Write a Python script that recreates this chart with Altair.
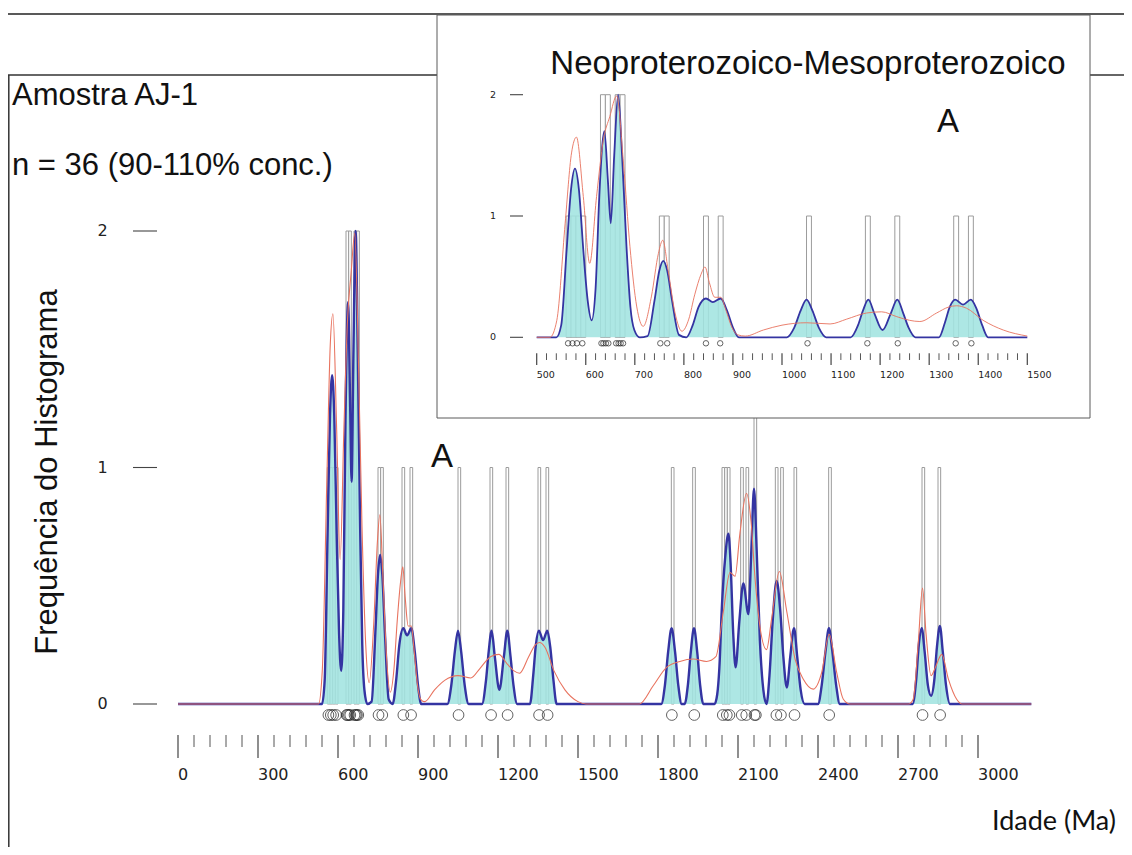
import altair as alt
import pandas as pd

# ---------------- data ----------------
# individual grain ages (Ma), n = 36
ages = [564, 573, 582, 593, 632, 636, 641, 646, 662, 667, 671, 676,
        752, 766, 845, 874, 1052, 1174, 1236, 1354, 1386, 1852, 1936,
        2043, 2058, 2068, 2114, 2131, 2162, 2167, 2244, 2261, 2312, 2442,
        2792, 2858]

# probability density curve (blue), histogram-frequency units
blue_age = [0, 500, 540, 550, 561, 570, 578, 586, 595, 604, 612, 620, 628, 638, 645, 651,
            658, 666, 674, 683, 691, 699, 710, 726, 740, 750, 758, 766, 776, 790, 805,
            818, 830, 845, 859, 875, 888, 900, 912, 1010, 1025, 1038, 1050, 1062, 1075,
            1090, 1140, 1155, 1165, 1176, 1188, 1205, 1222, 1235, 1247, 1258, 1272, 1320,
            1332, 1342, 1353, 1369, 1385, 1396, 1408, 1420, 1500, 1812, 1826, 1838, 1851,
            1864, 1876, 1889, 1900, 1912, 1923, 1935, 1947, 1958, 1970, 2012, 2022, 2030,
            2040, 2052, 2064, 2072, 2082, 2091, 2105, 2120, 2139, 2150, 2160, 2170, 2182,
            2195, 2207, 2218, 2230, 2245, 2258, 2270, 2283, 2296, 2310, 2322, 2335, 2350,
            2400, 2414, 2428, 2441, 2454, 2468, 2482, 2755, 2768, 2778, 2789, 2800, 2812,
            2824, 2836, 2846, 2857, 2868, 2880, 2895, 3200]
blue_val = [0, 0, 0, 0.1, 0.72, 1.22, 1.39, 1.22, 0.72, 0.3, 0.14, 0.4, 1.2, 1.70, 1.3, 0.94,
            1.5, 2.0, 1.5, 0.75, 0.25, 0.06, 0, 0.01, 0.3, 0.55, 0.63, 0.55, 0.3, 0.02, 0,
            0.1, 0.25, 0.32, 0.29, 0.32, 0.22, 0.08, 0, 0, 0.08, 0.22, 0.31, 0.22, 0.08,
            0, 0, 0.1, 0.22, 0.31, 0.2, 0.06, 0.2, 0.31, 0.2, 0.08, 0, 0,
            0.12, 0.25, 0.31, 0.27, 0.31, 0.24, 0.1, 0, 0, 0, 0.08, 0.22, 0.32,
            0.22, 0.08, 0, 0, 0.08, 0.22, 0.32, 0.22, 0.08, 0, 0, 0.04, 0.15,
            0.42, 0.62, 0.72, 0.6, 0.3, 0.155, 0.35, 0.51, 0.38, 0.65, 0.91, 0.65, 0.27,
            0.06, 0, 0.12, 0.35, 0.52, 0.4, 0.2, 0.07, 0.2, 0.32, 0.2, 0.06, 0,
            0, 0.08, 0.22, 0.32, 0.22, 0.08, 0, 0, 0.1, 0.25, 0.32, 0.22, 0.08,
            0.035, 0.1, 0.24, 0.33, 0.22, 0.08, 0, 0]

# kernel density curve (red)
red_age = [0, 500, 527, 541, 558, 571, 581, 595, 608, 622, 636, 649, 663, 677, 690, 704,
           717, 734, 748, 757, 768, 782, 796, 810, 822, 835, 843, 852, 863, 875, 886, 897,
           910, 925, 962, 1000, 1050, 1098, 1132, 1172, 1203, 1234, 1260, 1281, 1315, 1340,
           1356, 1376, 1410, 1451, 1500, 1530, 1730, 1782, 1832, 1882, 1932, 1982, 2017,
           2045, 2070, 2089, 2107, 2132, 2149, 2164, 2182, 2207, 2226, 2255, 2283, 2314,
           2345, 2382, 2414, 2442, 2470, 2495, 2520, 2740, 2757, 2776, 2792, 2805, 2824,
           2842, 2864, 2889, 2920, 2940, 3200]
red_val = [0, 0, 0, 0.14, 0.94, 1.52, 1.65, 1.16, 0.61, 1.16, 1.63, 1.82, 1.99, 1.43, 0.75, 0.25,
           0.09, 0.34, 0.69, 0.80, 0.55, 0.20, 0.05, 0.15, 0.35, 0.52, 0.58, 0.45, 0.33, 0.33, 0.22, 0.09,
           0.02, 0.01, 0.06, 0.10, 0.12, 0.11, 0.15, 0.20, 0.21, 0.17, 0.14, 0.13, 0.20, 0.25,
           0.26, 0.24, 0.14, 0.06, 0.01, 0, 0, 0.077, 0.155, 0.18, 0.19, 0.18, 0.20,
           0.39, 0.556, 0.54, 0.72, 0.89, 0.77, 0.53, 0.33, 0.23, 0.36, 0.56, 0.39, 0.19,
           0.105, 0.063, 0.134, 0.295, 0.134, 0.02, 0, 0, 0.02, 0.26, 0.49, 0.30, 0.12,
           0.16, 0.21, 0.105, 0.02, 0, 0]

main_major = [0, 300, 600, 900, 1200, 1500, 1800, 2100, 2400, 2700, 3000]
main_minor = [t for t in range(0, 3001, 60) if t % 300]
inset_major = [500, 600, 700, 800, 900, 1000, 1100, 1200, 1300, 1400, 1500]
inset_minor = [t for t in range(500, 1501, 20) if t % 100]
y_ticks = [0, 1, 2]

# ---------------- scales ----------------
W, H = 1116, 839
MX = alt.Scale(domain=[0, 3000], range=[170, 970])
MY = alt.Scale(domain=[0, 2], range=[696, 223])
IX = alt.Scale(domain=[500, 1500], range=[528.7, 1019.3])
IY = alt.Scale(domain=[0, 2], range=[329.3, 86.7])


def X(f, s):
    return alt.X(f, type="quantitative", scale=s, axis=None)


def Y(f, s):
    return alt.Y(f, type="quantitative", scale=s, axis=None)


blue_df = pd.DataFrame({"age": blue_age, "val": blue_val})
red_df = pd.DataFrame({"age": red_age, "val": red_val})
ages_df = pd.DataFrame({"age": ages})
dummy = pd.DataFrame({"d": [0]})

FONT = "Liberation Sans"
TICKFONT = "DejaVu Sans"


def panel(sx, sy, circ_y, circ_size, blue_w, red_w, filt=None):
    def base(df):
        c = alt.Chart(df)
        if filt:
            c = c.transform_filter(filt)
        return c

    hist = (alt.Chart(ages_df)
            .transform_bin(as_=["b0", "b1"], field="age", bin=alt.Bin(step=10))
            .transform_aggregate(n="count()", groupby=["b0", "b1"])
            .mark_rect(fill="white", stroke="#9c9c9c", strokeWidth=1)
            .encode(x=X("b0:Q", sx), x2="b1:Q", y=Y("n:Q", sy), y2=alt.datum(0)))
    area = base(blue_df).mark_area(color="#a2e4e0", opacity=0.88, interpolate="monotone").encode(
        x=X("age", sx), y=Y("val", sy))
    blue = base(blue_df).mark_line(color="#3434a2", strokeWidth=blue_w, interpolate="monotone").encode(
        x=X("age", sx), y=Y("val", sy))
    red = base(red_df).mark_line(color="#e8735f", strokeWidth=red_w, interpolate="monotone").encode(
        x=X("age", sx), y=Y("val", sy))
    circ = alt.Chart(ages_df).mark_point(shape="circle", filled=False, size=circ_size,
                                         color="#222222", strokeWidth=1.0).encode(
        x=X("age", sx), y=alt.value(circ_y))
    return [hist, area, blue, red, circ]


def xaxis(sx, major, minor, y0, ymaj, ymin, ylab, fs):
    maj = alt.Chart(pd.DataFrame({"t": major})).mark_rule(color="#444", strokeWidth=1.2).encode(
        x=X("t", sx), y=alt.value(y0), y2=alt.value(ymaj))
    mnr = alt.Chart(pd.DataFrame({"t": minor})).mark_rule(color="#555", strokeWidth=1.0).encode(
        x=X("t", sx), y=alt.value(y0), y2=alt.value(ymin))
    lab = alt.Chart(pd.DataFrame({"t": major, "lab": [str(v) for v in major]})).mark_text(
        align="left", baseline="alphabetic", font=TICKFONT, fontSize=fs, color="#222").encode(
        x=X("t", sx), y=alt.value(ylab), text="lab:N")
    return [maj, mnr, lab]


def yaxis(sy, x0, x1, xlab, fs):
    df = pd.DataFrame({"v": y_ticks, "lab": [str(v) for v in y_ticks]})
    tk = alt.Chart(df).mark_rule(color="#444", strokeWidth=1.1).encode(
        y=Y("v", sy), x=alt.value(x0), x2=alt.value(x1))
    lab = alt.Chart(df).mark_text(align="center", baseline="middle", font=TICKFONT,
                                  fontSize=fs, color="#222").encode(
        y=Y("v", sy), x=alt.value(xlab), text="lab:N")
    return [tk, lab]


def txt(s, x, y, fs, align="left", angle=0, font=FONT, baseline="alphabetic"):
    return alt.Chart(dummy).mark_text(text=s, align=align, baseline=baseline, angle=angle,
                                      font=font, fontSize=fs, color="#111").encode(
        x=alt.value(x), y=alt.value(y))


def hline(x0, x1, y, w=1.5, c="#222"):
    return alt.Chart(dummy).mark_rule(color=c, strokeWidth=w).encode(
        x=alt.value(x0), x2=alt.value(x1), y=alt.value(y))


def vline(x, y0, y1, w=1.5, c="#222"):
    return alt.Chart(dummy).mark_rule(color=c, strokeWidth=w).encode(
        x=alt.value(x), y=alt.value(y0), y2=alt.value(y1))


layers = []
# frames
layers += [hline(0, W, 6), hline(0, W, 67, c="#333"), vline(0.8, 67, H, c="#333")]
# main panel
layers += panel(MX, MY, 707, 115, 2.4, 1.1)
layers += xaxis(MX, main_major, main_minor, 727, 750, 739, 772, 16)
layers += yaxis(MY, 125, 149, 94.5, 16)
layers += [
    txt("Amostra AJ-1", 4, 97, 31),
    txt("n = 36 (90-110% conc.)", 4, 167, 31),
    txt("Frequência do Histograma", 40, 464, 31, align="center", angle=270, baseline="middle"),
    txt("A", 423, 459, 33),
    txt("Idade (Ma)", 984, 822, 27, font="Lato"),
]
# inset
inset_bg = alt.Chart(dummy).mark_rect(fill="white", stroke="#5a5a5a", strokeWidth=1).encode(
    x=alt.value(429), x2=alt.value(1082), y=alt.value(7), y2=alt.value(410))
layers += [inset_bg]
layers += panel(IX, IY, 335.3, 30, 1.8, 0.9, filt="datum.age >= 500 && datum.age <= 1500")
layers += xaxis(IX, inset_major, inset_minor, 345.3, 357, 352, 370, 9.5)
layers += yaxis(IY, 502, 515, 485, 9.5)
layers += [
    txt("Neoproterozoico-Mesoproterozoico", 800, 66, 33, align="center"),
    txt("A", 929, 124, 33),
]

chart = (alt.layer(*layers)
         .resolve_scale(x="independent", y="independent")
         .properties(width=W, height=H, padding=0, autosize=alt.AutoSizeParams(type="none"),
                     background="white")
         .configure_view(stroke=None))

chart.save("out.html", embed_options={"renderer": "svg", "actions": False})
